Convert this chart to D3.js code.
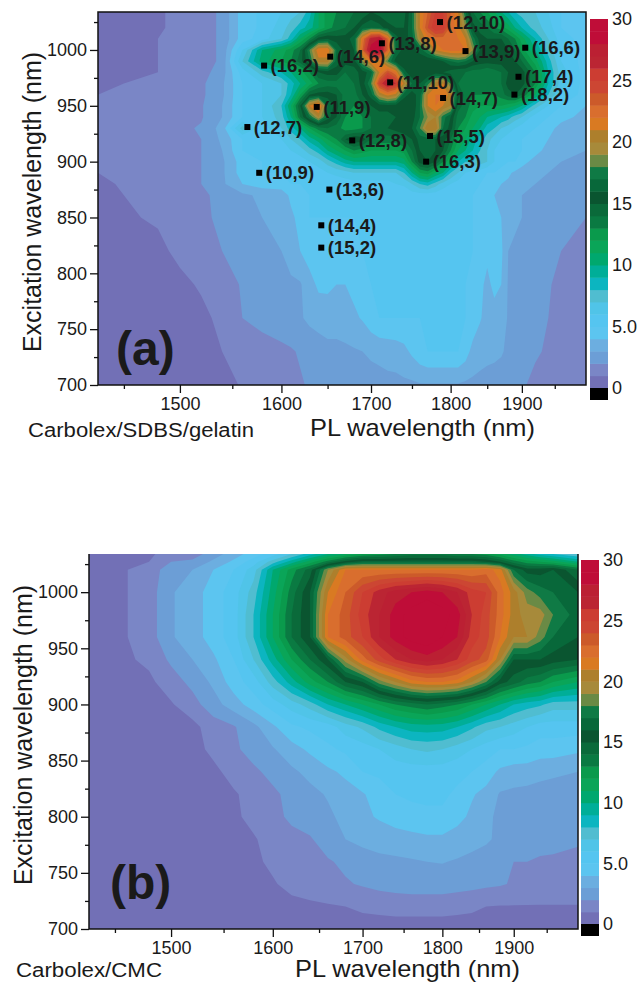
<!DOCTYPE html>
<html>
<head>
<meta charset="utf-8">
<script src="https://cdn.jsdelivr.net/npm/d3@7"></script>
<style>
  body { margin: 0; background: #fff; }
  svg { display: block; }
  text { font-family: "Liberation Sans", Arial, sans-serif; fill: #1a1a1a; }
</style>
</head>
<body>
<svg width="643" height="982"></svg>
<script>
// Colour bands from the legend, one per unit, lowest first
const bandColors = ["#7270b6", "#7a86c6", "#6c9ed6", "#6caee0", "#5cc5f0", "#55c5f0", "#50c4e8", "#50bdd0",
  "#0cb5c0", "#00ae98", "#00a86e", "#0aa558", "#0a9a4c", "#0a7a42", "#0a6a3a", "#0a5530", "#08683a", "#0f7a45",
  "#6a8a45", "#a78a3a", "#ad7f2c", "#d97a22", "#d96e2e", "#cc5a2a", "#cc4633", "#cc3d32", "#bb2533", "#bb2033",
  "#bf0d38", "#bf0d38"];
const legendTicks = [0, 5, 10, 15, 20, 25, 30];
const legendLabels = ["0", "5.0", "10", "15", "20", "25", "30"];

const xMajor = [1500, 1600, 1700, 1800, 1900];
const xMinor = [1450, 1550, 1650, 1750, 1850, 1950];
const yMajor = [700, 750, 800, 850, 900, 950, 1000];
const yMinor = [725, 775, 825, 875, 925, 975, 1025];

// Panel (a): PL wavelength of each column, excitation of each row (top to bottom)
const emissionA = [1428, 1450, 1480, 1500, 1520, 1540, 1560, 1580,
  1600, 1610, 1620, 1630, 1640, 1650, 1660, 1670, 1680, 1690, 1700, 1710, 1720, 1730, 1740, 1750, 1760,
  1770, 1780, 1790, 1800, 1810, 1820, 1830, 1840, 1850, 1860, 1870, 1880, 1890, 1900,
  1920, 1940, 1960, 2000];
const excitationA = [1034, 1020, 1010, 1000, 990, 980, 970, 960, 950, 940, 930, 920, 910, 900, 890, 880, 870, 850, 820, 790, 760, 730, 700];
const intensityA = [
  [.7,.8,.9,1.2,1.5,2.2,4.5,5.2, 6,6.5,7,8.5,11,12.5,13,13.5,14,14,15,14.5,14,14,14.5,17,21,23,25,25,23,21,17,14,13,12,11,10,9,8,7.5, 7,6,5,4],
  [.7,.8,.9,1.2,1.5,2.2,4.5,5.2, 6.5,7.5,8.5,9.5,11,12.5,13.5,14,15,16.5,17,16.5,15.5,15,15,17,21,24,26,25.5,22.5,21.5,19,15.5,14.5,14,13,12.5,11.5,10,9, 7.5,6.5,5,4],
  [.7,.8,1,1.2,1.5,2.2,4.5,5.5, 7,8.5,11,13,15.5,16,15.5,15.5,16.5,22,27,28,23,16.5,15.5,16.5,20,21.5,22.5,22.5,22,22,21,17.5,15.5,15,15,15,14,13,11.5, 9,7,5.5,4.5],
  [.7,.8,1,1.2,1.5,2.2,6,10, 11.5,12.5,14,18,22,22,17,15.5,16,23,29,29.5,23,17,15.5,15.5,16.5,18,21,22,22.5,22.5,22,19,16,15.5,15.5,15.5,15,14,12.5, 10,7.5,6,4.5],
  [.7,.8,1,1.2,1.5,2.2,7,10.5, 12,13,14.5,17,20.5,20.5,16.5,15.5,15.5,19,22,21.5,18,15.5,15,15,15,15,15,16,17,17.5,17,16,15.5,15.5,15.5,15.5,15,15,14, 11.5,8.5,6,4.5],
  [.8,.8,1,1.2,1.6,2.5,5.5,7.5, 9,10,11.5,13,15,15.5,15.5,14,14.5,15.5,16.5,21,24,22,16.5,15,15,15,15.5,15,14.5,14,14,13.5,13.5,13,13.5,14,15,15.5,15.5, 13,9,6.5,4.5],
  [.8,1,1.2,1.5,1.8,2.8,5,6, 7,8.5,10,11.5,13,13.5,13.5,13.5,14,15.5,18,25,28,26,20.5,17,16,17.5,20.5,21,18,14,13.5,13,13,13,13.5,14,15.5,16,15.5, 13,9,6.5,4.5],
  [1,1.2,1.4,1.6,1.8,2.8,5,6, 7,9,12,15,15.5,15.5,15,13.5,13.5,15,16.5,20,21.5,20.5,16.5,15.5,16.5,21,22,22,20.5,15.5,13.5,13,13,13,13,13.5,14.5,15,14, 11,8,6,4.5],
  [1.2,1.4,1.5,1.6,1.9,3,5,6, 8,11,15,21,23,17,15.5,13,13,14,15,15.5,15.5,15.5,15,15,17,21,22,21,20,14.5,13.5,12.5,12,12,12,12,11.5,11,10, 7.5,6,5,4],
  [1.5,1.6,1.7,1.7,1.9,3,5,6, 7.5,10,14,17,20,16.5,15,13,12.5,13,14,14.5,14.5,15,15.5,15.5,17,19,20,17.5,16,13.5,13,11.5,11,10,9.5,9,8.5,7.5,7, 5.5,5,4.5,3.5],
  [1.7,1.8,1.8,1.8,2.1,3.4,7.5,5.5, 7,8.5,10,12,13.5,14,13.5,12.5,12.5,13,14,15,15,15.5,16,16,18,21,21,17,15.5,13,12,11,10,8.5,8,7,6.5,6,5.5, 5,4.5,3.5,3],
  [1.5,1.7,1.7,1.7,2,3.2,5,5, 6,7,8,9.5,10.5,12,13,15,16,15.5,14,13.5,13.5,13.5,14,15,16.5,16.5,16,15.5,14,12,11,9.5,8.5,7.5,6.5,6,5.5,5,5, 4.5,4,3.5,3],
  [1.2,1.5,1.7,1.7,2,3,5,5, 5.5,6,6.5,7.5,8.5,10,11,12,13,12.5,12,12,12,12,12.5,14,16,16.5,16,15,13,11,10,9,8,7,6,5.5,5,5,5, 4.5,3.5,3,3],
  [1.2,1.5,1.6,1.7,2,2.8,4.5,5, 5,5.5,5.5,6,6.5,7.5,8.5,9.5,10,10,10,10,10,10,10.5,13,15.5,16,15,13,11,9,8,8,7.5,7,6,5.5,5,5,4.5, 3.5,3.2,3,2.5],
  [1,1.3,1.5,1.7,2,2.8,4.5,5, 5,5.2,5.3,5.5,5.5,6,6.2,6.5,7,7,7,7,7,7,8,10,12,12.5,11,10,8,7,6,5.5,5.5,5,5,4.5,4.2,3.8,3.4, 3,3,2.5,2.5],
  [.8,1.1,1.4,1.6,2,2.8,4,4.5, 4.5,5,5,5,5.2,5.3,5.5,5.5,5.5,5.5,5.5,5.5,5.5,6,6.2,7,8,8.5,7.5,6.5,6,5.5,5.5,5.2,5,4.8,4.5,4,3.8,3.4,3.1, 3,2.8,2.5,2.3],
  [.7,1,1.3,1.5,1.8,2.3,2.8,3.2, 3.5,4.2,4.8,5,5,5,5,5,5,5,5,5.2,5.2,5.2,5.2,5.5,5.5,5.5,5.5,5.3,5,5,5,5,4.8,4.5,4,3.6,3.3,3.1,3, 2.8,2.6,2.4,2],
  [.7,.9,1.1,1.5,1.8,2.2,2.8,3, 3.3,3.8,4.3,5,5,5,5,5,5,5,5,5,5,5,5,5,5,5,5,5,5,5,5,5,4.6,4.3,4.2,4,3.5,3.2,3, 2.7,2.4,2.2,2],
  [.7,.7,.8,1.2,1.6,2,2.4,2.6, 3,3.5,4,4.5,4.8,4.8,4.6,4.6,4.7,5,5,5,5,5,5,5,5,5,5,5,5,5,5,5,4.5,4.2,4.3,4.2,3,2.8,2.7, 2.5,2.2,2,1.8],
  [.5,.5,.6,.8,1.1,1.5,2.1,2.4, 2.6,2.8,2.9,3.6,4.2,4.2,4,4,4.3,4.6,5,5,5,5,5,5,5,5,5,5,5,5,5,4.8,4.2,3.8,4.2,4,2.9,2.6,2.5, 2.3,2.1,1.7,1.5],
  [.5,.5,.5,.5,.8,1.2,2,2.3, 2.5,2.7,2.9,3.2,3.4,3.5,3.5,3.6,3.8,4.1,4.6,5,5,5,5,5,5,5,5,5,5,5,5,4.8,4.1,3.6,3.7,3.5,2.9,2.6,2.4, 2.2,2,1.6,1.4],
  [.5,.5,.5,.5,.6,1,1.4,1.6, 1.8,1.9,2.1,2.4,2.5,2.7,2.7,2.8,2.9,3,3.2,3.3,3.4,3.5,3.7,4.2,4.7,5,5,5,5,5,4.5,3.6,3.4,3.3,3.2,3.1,2.8,2.5,2.3, 2.1,1.9,1.5,1.3],
  [.5,.5,.5,.5,.5,.6,1.1,1.4, 1.6,1.8,1.9,2.1,2.2,2.3,2.3,2.4,2.4,2.5,2.5,2.6,2.7,2.7,2.8,2.8,2.9,2.9,2.9,2.9,2.9,2.9,2.8,2.8,2.7,2.6,2.6,2.5,2.4,2.3,2.1, 1.8,1.4,1.2,1]
];

// Panel (b): PL wavelength of each column, excitation of each row (top to bottom)
const emissionB = [1428, 1450, 1480, 1500, 1520, 1540, 1560, 1580, 1600, 1620, 1640, 1660, 1680, 1700,
  1720, 1740, 1760, 1780, 1800, 1820, 1840, 1860, 1880, 1900, 1920, 1940, 1960, 2000];
const excitationB = [1034, 1027, 1020, 1000, 980, 960, 940, 920, 900, 880, 860, 840, 820, 800, 780, 760, 740, 720, 700];
const intensityB = [
  [0.5,0.5,0.8,1.5,1.5,2.5,3.5,4.5,5.5,7,8.5,10,11,12,12.5,13,13.5,13.5,13.5,13,13,12.5,11.5,10.5,9.5,8.5,8,7],
  [0.5,0.6,1,2,2.2,3.2,4.2,5.5,7.5,9.5,11.5,13.5,15.5,16.5,16.5,16.5,16.5,16.5,16.5,16.5,16.5,16,15,13.5,12.5,12,11.5,10],
  [0.5,0.7,1.5,2.5,3,4,5,6.5,10,12.5,14.5,19,22,22,22,22,22,22,22,22,22,22.5,21.5,17,15.5,15.5,16,14],
  [0.5,0.7,1.5,2.9,3.5,4.5,5.5,7.5,10.5,13.5,16,21,23,25,26.5,27.5,28,28.5,28,27,25.5,25,22.5,20.5,18.5,17.5,17,16],
  [0.5,0.7,1.5,2.9,3.5,4.5,5.5,8,11,14,16,22,23.5,25.5,27,28.5,29.5,30,29.5,28.5,26,24.5,22.5,20.5,19.5,19.5,18,16.5],
  [0.5,0.7,1.5,2.9,3.5,4.5,5.5,8,11,14,16,22,23.5,25,27,28.5,29.5,30,29,28,25.5,24.5,22,20,20,18.5,17,16],
  [0.5,0.7,1.2,2.2,3,3.8,5,7,9.5,12,14,16,19.5,22.5,24.5,26,27,27.5,27,26,24.5,23.5,20,16,16,16,15.5,15],
  [0.5,0.5,0.8,1.5,2.3,3.2,4.5,5.5,7.5,9.5,11.5,13,15,16,18.5,20,21.5,22,22,21.5,20,18,15.5,14.5,13.5,13,12,11],
  [0.5,0.5,0.5,0.9,1.6,2.6,3.5,4.5,5.5,6.5,7.5,9,10,11,12,13,13.5,14,13.5,13,12,11,10,9,8.5,8.2,7.5,7.5],
  [0.5,0.5,0.5,0.5,0.7,1.5,1.9,2.7,3.8,4.8,5.2,5.5,6.5,7.2,8.3,9,9.5,9.6,9.5,9,8.2,7.3,7,6.5,6,5.5,5.5,5.5],
  [0.5,0.5,0.5,0.5,0.7,1.2,1.8,2.4,2.9,3.6,4.2,4.8,5.2,5.5,6,6.5,7,7.2,7,6.5,6,5.5,5,5,4.8,4.5,4.5,4.2],
  [0.5,0.5,0.5,0.5,0.5,0.8,1.3,1.8,2.3,2.8,3.3,3.8,4.2,5,5.2,5.5,5.5,5.5,5.5,5.3,5,4.5,3.8,3.5,3.5,3.3,3.2,3],
  [0.5,0.5,0.5,0.5,0.5,0.5,0.9,1.3,1.8,2.3,2.7,3.1,3.6,3.9,4.5,5,5.2,5.2,5.2,4.8,4.1,3.7,2.9,2.8,2.7,2.6,2.5,2.5],
  [0.5,0.5,0.5,0.5,0.5,0.5,0.8,1.3,1.7,2.2,2.5,2.8,3.3,3.8,4.1,4.4,4.6,4.8,4.8,4.3,3.8,3.2,2.8,2.7,2.6,2.5,2.5,2.4],
  [0.5,0.5,0.5,0.5,0.5,0.5,0.7,0.9,1.4,1.7,1.9,2.5,3,3.3,3.5,3.6,3.7,3.8,3.8,3.6,3.4,3.2,2.7,2.5,2.4,2.3,2.2,2.1],
  [0.5,0.5,0.5,0.5,0.5,0.5,0.5,0.8,1.2,1.5,1.7,1.9,2.2,2.5,2.7,2.8,2.9,3,3.05,2.9,2.7,2.4,2,2,2,1.9,1.9,1.8],
  [0.5,0.5,0.5,0.5,0.5,0.5,0.5,0.5,0.9,1.3,1.5,1.7,1.9,2.1,2.3,2.4,2.5,2.5,2.5,2.4,2.3,2.2,2.1,1.9,1.7,1.6,1.6,1.6],
  [0.5,0.5,0.5,0.5,0.5,0.5,0.5,0.5,0.5,0.7,0.8,0.9,1,1.2,1.3,1.4,1.4,1.4,1.4,1.3,1.2,1,0.95,0.95,0.95,0.95,0.95,0.95],
  [0.5,0.5,0.5,0.5,0.5,0.5,0.5,0.5,0.5,0.5,0.5,0.5,0.5,0.5,0.5,0.5,0.5,0.5,0.5,0.5,0.5,0.5,0.5,0.5,0.5,0.5,0.5,0.5]
];

// Chirality markers of panel (a): label, PL wavelength, excitation wavelength
const tubeLabels = ["(12,10)", "(13,8)", "(13,9)", "(16,6)", "(14,6)", "(16,2)", "(11,10)", "(17,4)", "(18,2)", "(14,7)",
  "(11,9)", "(12,7)", "(15,5)", "(12,8)", "(16,3)", "(10,9)", "(13,6)", "(14,4)", "(15,2)"];
const tubeEmission = [1786, 1713, 1820, 1905, 1653, 1582, 1723, 1895, 1889, 1790, 1638, 1565, 1773, 1678, 1768, 1577, 1652, 1643, 1643];
const tubeExcitation = [1025, 1006, 999, 1002, 994, 986, 971, 976, 960, 957, 949, 931, 923, 919, 900, 890, 875, 843, 823];

const svg = d3.select("svg");

function drawPanel(p) {
  const g = svg.append("g").attr("transform", `translate(${p.left},${p.top})`);

  // PL axis is linear in energy, so the scale runs on 1/wavelength
  const xInv = d3.scaleLinear().domain([1 / 1428, 1 / 2000]).range([0, p.width]);
  const x = d => xInv(1 / d);
  const y = d3.scaleLinear().domain([700, 1034]).range([p.height, 0]);

  // Grid index -> pixel, the grid rows and columns are not evenly spaced
  const colPx = d3.scaleLinear().domain(d3.range(p.emission.length)).range(p.emission.map(x));
  const rowPx = d3.scaleLinear().domain(d3.range(p.excitation.length)).range(p.excitation.map(y));

  const project = d3.geoTransform({
    point: function(px, py) { this.stream.point(colPx(px - 0.5), rowPx(py - 0.5)); }
  });
  const path = d3.geoPath(project);

  const contours = d3.contours()
    .size([p.emission.length, p.excitation.length])
    .smooth(true)
    .thresholds(d3.range(0, 30))(p.values.flat());

  g.append("clipPath").attr("id", p.id + "-clip")
    .append("rect").attr("width", p.width).attr("height", p.height);

  g.append("g").attr("clip-path", `url(#${p.id}-clip)`)
    .selectAll("path")
    .data(contours)
    .enter().append("path")
    .attr("d", path)
    .attr("fill", d => bandColors[d.value]);

  // Frame
  g.append("path")
    .attr("d", p.frame(p.width, p.height))
    .attr("fill", "none").attr("stroke", "#111").attr("stroke-width", 1.5);

  // Axes
  const xAxisG = g.append("g").attr("transform", `translate(0,${p.height})`);
  xAxisG.call(d3.axisBottom(d3.scaleIdentity())
    .tickValues(xMajor.map(x)).tickSize(8).tickPadding(4).tickFormat((d, i) => xMajor[i]));
  xAxisG.append("g")
    .call(d3.axisBottom(d3.scaleIdentity()).tickValues(xMinor.map(x)).tickSize(4).tickFormat(""));

  const yAxisG = g.append("g");
  yAxisG.call(d3.axisLeft(y).tickValues(yMajor).tickSize(8).tickPadding(3).tickFormat(d3.format("d")));
  yAxisG.append("g")
    .call(d3.axisLeft(y).tickValues(yMinor).tickSize(4).tickFormat(""));

  g.selectAll(".domain").remove();
  g.selectAll(".tick line").attr("stroke", "#111").attr("stroke-width", 1.3);
  g.selectAll(".tick text").style("font-size", "18px").attr("fill", "#1a1a1a");

  // Axis titles
  svg.append("text")
    .attr("x", p.yTitle[0]).attr("y", p.yTitle[1])
    .attr("transform", `rotate(-90,${p.yTitle[0]},${p.yTitle[1]})`)
    .style("text-anchor", "middle").style("font-size", "25px")
    .text("Excitation wavelength (nm)");
  svg.append("text")
    .attr("x", p.xTitle[0] - 112).attr("y", p.xTitle[1])
    .style("font-size", "24px")
    .attr("textLength", 225).attr("lengthAdjust", "spacingAndGlyphs")
    .text("PL wavelength (nm)");
  svg.append("text")
    .attr("x", p.sample[0]).attr("y", p.sample[1])
    .style("font-size", "20px")
    .attr("textLength", p.sampleWidth).attr("lengthAdjust", "spacingAndGlyphs")
    .text(p.sampleName);
  svg.append("text")
    .attr("x", p.tag[0]).attr("y", p.tag[1])
    .style("font-size", "48px").style("font-weight", "bold")
    .attr("fill", "#111")
    .text(p.tagName);

  // Colour legend with a black band below zero
  const lg = svg.append("g").attr("transform", `translate(${p.legend.x},0)`);
  const ly = d3.scaleLinear().domain([0, 30]).range([p.legend.y0, p.legend.y30]);
  lg.selectAll("rect.band")
    .data(bandColors)
    .enter().append("rect")
    .attr("class", "band")
    .attr("width", 18)
    .attr("y", (d, i) => ly(i + 1))
    .attr("height", (d, i) => ly(i) - ly(i + 1) + 0.5)
    .attr("fill", d => d);
  lg.append("rect")
    .attr("width", 18).attr("y", ly(0)).attr("height", 12).attr("fill", "#000");
  lg.selectAll("text")
    .data(legendTicks)
    .enter().append("text")
    .attr("x", 22)
    .attr("y", d => ly(d))
    .attr("dy", ".36em")
    .style("font-size", "18px")
    .text((d, i) => legendLabels[i]);

  return { x, y, g };
}

const panelA = drawPanel({
  id: "a", left: 98, top: 12, width: 488, height: 373,
  emission: emissionA, excitation: excitationA, values: intensityA,
  frame: (w, h) => `M0,0H${w}V${h}H0Z`,
  yTitle: [41, 202], xTitle: [422, 436], sample: [28, 437], sampleWidth: 226, sampleName: "Carbolex/SDBS/gelatin",
  tag: [116, 365], tagName: "(a)",
  legend: { x: 590, y0: 388, y30: 19 }
});

drawPanel({
  id: "b", left: 89, top: 554, width: 489, height: 375,
  emission: emissionB, excitation: excitationB, values: intensityB,
  frame: (w, h) => `M0,0V${h}H${w}V0`,
  yTitle: [32, 735], xTitle: [407, 977], sample: [16, 977], sampleWidth: 146, sampleName: "Carbolex/CMC",
  tag: [110, 899], tagName: "(b)",
  legend: { x: 581, y0: 924, y30: 560 }
});

// Chirality markers and their labels
const tubes = tubeLabels.map((label, i) => ({ label, em: tubeEmission[i], ex: tubeExcitation[i] }));
const tubeG = panelA.g.selectAll(".tube")
  .data(tubes)
  .enter().append("g")
  .attr("class", "tube")
  .attr("transform", d => `translate(${panelA.x(d.em)},${panelA.y(d.ex)})`);
tubeG.append("rect")
  .attr("x", -3).attr("y", -3).attr("width", 6).attr("height", 6)
  .attr("fill", "#000");
tubeG.append("text")
  .attr("x", 6.5).attr("dy", ".36em")
  .style("font-size", "18.5px").style("font-weight", "bold")
  .attr("fill", "#111")
  .text(d => d.label);
</script>
</body>
</html>
